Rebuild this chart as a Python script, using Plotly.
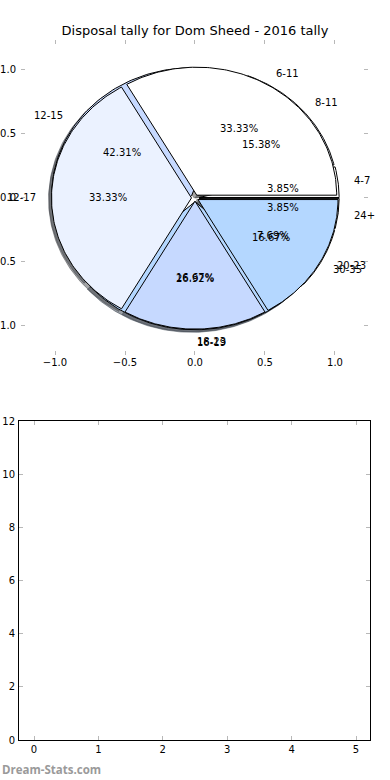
import numpy as np
import plotly.graph_objects as go

# ---- data ----
title = "Disposal tally for Dom Sheed - 2016 tally"
a_labels = ["6-11", "12-17", "18-23", "30-35"]
a_values = [2, 2, 1, 1]
b_labels = ["4-7", "8-11", "12-15", "16-19", "20-23", "24+"]
b_values = [1, 4, 11, 7, 2, 1]
palette = ["#ffffff", "#ebf2ff", "#c6d9ff", "#b4d7ff"]
pie_ticks = [-1.0, -0.5, 0.0, 0.5, 1.0]
bar_xticks = [0, 1, 2, 3, 4, 5]
bar_yticks = [0, 2, 4, 6, 8, 10, 12]
a_explode = 0.025
b_explode = 0.03

FONT = "DejaVu Sans"
W, H = 390, 780


def wedges(values, explode):
    total = float(sum(values))
    out = []
    start = 0.0
    for v in values:
        t1 = start / total * 360.0
        t2 = (start + v) / total * 360.0
        mid = np.deg2rad((t1 + t2) / 2)
        cx, cy = explode * np.cos(mid), explode * np.sin(mid)
        th = np.deg2rad(np.linspace(t1, t2, 120))
        xs = np.concatenate([[cx], cx + np.cos(th), [cx]])
        ys = np.concatenate([[cy], cy + np.sin(th), [cy]])
        out.append(dict(xs=xs, ys=ys, mid=mid, cx=cx, cy=cy, pct=v / total * 100))
        start += v
    return out


def shade(hexcol):
    h = hexcol.lstrip("#")
    r, g, b = (int(h[i:i + 2], 16) for i in (0, 2, 4))
    return "rgba(%d,%d,%d,0.5)" % (r * 0.3, g * 0.3, b * 0.3)


wa = wedges(a_values, a_explode)
wb = wedges(b_values, b_explode)

fig = go.Figure()

# shadows (drawn beneath all wedges)
for ws in (wb, wa):
    for i, w in enumerate(ws):
        c = shade(palette[i % len(palette)])
        fig.add_trace(go.Scatter(x=w["xs"] - 0.02, y=w["ys"] - 0.02, mode="lines",
                                 fill="toself", fillcolor=c,
                                 line=dict(color=c, width=1),
                                 hoverinfo="skip", showlegend=False,
                                 xaxis="x", yaxis="y"))
# wedges: pie B under pie A
for ws in (wb, wa):
    for i, w in enumerate(ws):
        fig.add_trace(go.Scatter(x=w["xs"], y=w["ys"], mode="lines",
                                 fill="toself", fillcolor=palette[i % len(palette)],
                                 line=dict(color="black", width=1),
                                 hoverinfo="skip", showlegend=False,
                                 xaxis="x", yaxis="y"))

annotations = []
for ws, labels in ((wb, b_labels), (wa, a_labels)):
    for w, lab in zip(ws, labels):
        xt = w["cx"] + 1.1 * np.cos(w["mid"])
        yt = w["cy"] + 1.1 * np.sin(w["mid"])
        annotations.append(dict(x=xt, y=yt, xref="x", yref="y", text=lab,
                                showarrow=False,
                                xanchor="left" if round(xt, 6) >= 0 else "right",
                                yanchor="middle",
                                font=dict(family=FONT, size=10, color="black")))
        xp = w["cx"] + 0.6 * np.cos(w["mid"])
        yp = w["cy"] + 0.6 * np.sin(w["mid"])
        annotations.append(dict(x=xp, y=yp, xref="x", yref="y",
                                text="%.2f%%" % w["pct"], showarrow=False,
                                xanchor="center", yanchor="middle",
                                font=dict(family=FONT, size=10, color="black")))

# empty lower plot
fig.add_trace(go.Scatter(x=[], y=[], mode="markers", showlegend=False,
                         xaxis="x2", yaxis="y2"))

annotations.append(dict(x=0, y=1 - 769 / H, xref="paper", yref="paper",
                        text="<b>Dream-Stats.com</b>", showarrow=False,
                        xanchor="left", yanchor="middle",
                        font=dict(family="Open Sans", size=11.5, color="#9a9a9a")))

tick_common = dict(ticks="inside", ticklen=4, tickcolor="#b8b8b8", tickwidth=1,
                   showgrid=False, zeroline=False, automargin=False,
                   tickfont=dict(family=FONT, size=10, color="black"))

fig.update_layout(
    width=W, height=H,
    margin=dict(l=0, r=0, t=0, b=0, pad=0, autoexpand=False),
    paper_bgcolor="white", plot_bgcolor="white",
    title=dict(text=title, x=0.5, xanchor="center", y=1 - 30 / H, yanchor="middle",
               font=dict(family=FONT, size=13, color="black"), automargin=False),
    xaxis=dict(domain=[21 / W, 368 / W], range=[-1.243, 1.236], tickvals=pie_ticks,
               tickformat=".1f", showline=False, mirror="ticks", anchor="y",
               **tick_common),
    yaxis=dict(domain=[1 - 355 / H, 1 - 40 / H], range=[-1.227, 1.234],
               tickvals=pie_ticks, tickformat=".1f", showline=False, mirror="ticks",
               anchor="x", ticklabelstandoff=4, **tick_common),
    xaxis2=dict(domain=[19 / W, 370 / W], range=[-0.233, 5.217], tickvals=bar_xticks,
                showline=True, linecolor="black", linewidth=1, mirror="ticks",
                anchor="y2", **tick_common),
    yaxis2=dict(domain=[1 - 740 / H, 1 - 421 / H], range=[0, 12], tickvals=bar_yticks,
                showline=True, linecolor="black", linewidth=1, mirror="ticks",
                anchor="x2", ticklabelstandoff=1, **tick_common),
    annotations=annotations,
    font=dict(family=FONT),
)

fig.write_html("out.html", config={"displayModeBar": False},
               post_script="document.body.style.margin='0';document.body.style.overflow='hidden';")
